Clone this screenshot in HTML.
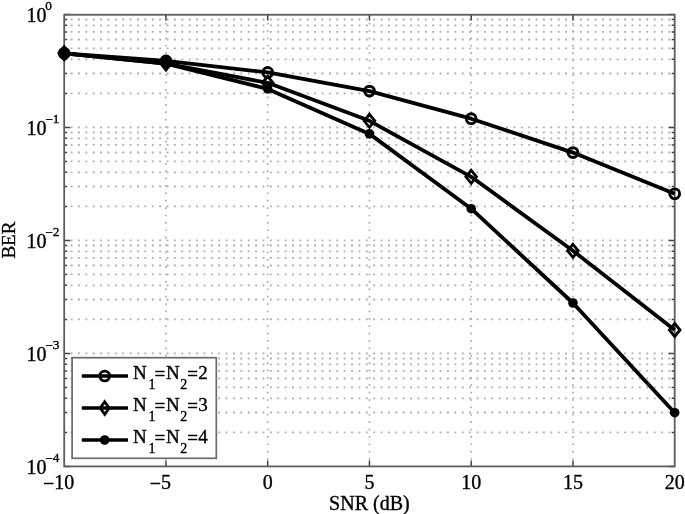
<!DOCTYPE html><html><head><meta charset="utf-8"><style>html,body{margin:0;padding:0;background:#fff;}svg{display:block;filter:blur(0.45px);}text{font-family:"Liberation Serif",serif;fill:#000;stroke:#000;stroke-width:0.35px;}</style></head><body>
<svg width="685" height="514" viewBox="0 0 685 514">
<rect width="685" height="514" fill="#fff"/>
<path d="M64.20 432.38H674.70M64.20 412.49H674.70M64.20 398.37H674.70M64.20 387.42H674.70M64.20 378.47H674.70M64.20 370.90H674.70M64.20 364.35H674.70M64.20 358.57H674.70M64.20 353.40H674.70M64.20 319.38H674.70M64.20 299.49H674.70M64.20 285.37H674.70M64.20 274.42H674.70M64.20 265.47H674.70M64.20 257.90H674.70M64.20 251.35H674.70M64.20 245.57H674.70M64.20 240.40H674.70M64.20 206.38H674.70M64.20 186.49H674.70M64.20 172.37H674.70M64.20 161.42H674.70M64.20 152.47H674.70M64.20 144.90H674.70M64.20 138.35H674.70M64.20 132.57H674.70M64.20 127.40H674.70M64.20 93.38H674.70M64.20 73.49H674.70M64.20 59.37H674.70M64.20 48.42H674.70M64.20 39.47H674.70M64.20 31.90H674.70M64.20 25.35H674.70M64.20 19.57H674.70" stroke="#aeaeae" stroke-width="1.9" stroke-dasharray="1.9 5.48" stroke-dashoffset="0.95" fill="none"/>
<path d="M165.95 466.40V14.40M267.70 466.40V14.40M369.45 466.40V14.40M471.20 466.40V14.40M572.95 466.40V14.40" stroke="#ababab" stroke-width="1.7" stroke-dasharray="1.7 5.68" stroke-dashoffset="0.85" fill="none"/>
<path d="M165.95 466.40v-6M165.95 14.40v6M267.70 466.40v-6M267.70 14.40v6M369.45 466.40v-6M369.45 14.40v6M471.20 466.40v-6M471.20 14.40v6M572.95 466.40v-6M572.95 14.40v6M64.20 466.40h6M674.70 466.40h-6M64.20 432.38h3M674.70 432.38h-3M64.20 412.49h3M674.70 412.49h-3M64.20 398.37h3M674.70 398.37h-3M64.20 387.42h3M674.70 387.42h-3M64.20 378.47h3M674.70 378.47h-3M64.20 370.90h3M674.70 370.90h-3M64.20 364.35h3M674.70 364.35h-3M64.20 358.57h3M674.70 358.57h-3M64.20 353.40h6M674.70 353.40h-6M64.20 319.38h3M674.70 319.38h-3M64.20 299.49h3M674.70 299.49h-3M64.20 285.37h3M674.70 285.37h-3M64.20 274.42h3M674.70 274.42h-3M64.20 265.47h3M674.70 265.47h-3M64.20 257.90h3M674.70 257.90h-3M64.20 251.35h3M674.70 251.35h-3M64.20 245.57h3M674.70 245.57h-3M64.20 240.40h6M674.70 240.40h-6M64.20 206.38h3M674.70 206.38h-3M64.20 186.49h3M674.70 186.49h-3M64.20 172.37h3M674.70 172.37h-3M64.20 161.42h3M674.70 161.42h-3M64.20 152.47h3M674.70 152.47h-3M64.20 144.90h3M674.70 144.90h-3M64.20 138.35h3M674.70 138.35h-3M64.20 132.57h3M674.70 132.57h-3M64.20 127.40h6M674.70 127.40h-6M64.20 93.38h3M674.70 93.38h-3M64.20 73.49h3M674.70 73.49h-3M64.20 59.37h3M674.70 59.37h-3M64.20 48.42h3M674.70 48.42h-3M64.20 39.47h3M674.70 39.47h-3M64.20 31.90h3M674.70 31.90h-3M64.20 25.35h3M674.70 25.35h-3M64.20 19.57h3M674.70 19.57h-3M64.20 14.40h6M674.70 14.40h-6" stroke="#444" stroke-width="1.5" fill="none"/>
<rect x="64.2" y="14.75" width="610.50" height="451.65" fill="none" stroke="#5c5c5c" stroke-width="1.8"/>
<polyline points="64.20,53.30 165.95,60.90 267.70,72.40 369.45,91.10 471.20,118.70 572.95,152.60 674.70,193.80" fill="none" stroke="#000" stroke-width="3.8" stroke-linejoin="round"/>
<polyline points="64.20,53.30 165.95,63.60 267.70,82.80 369.45,120.80 471.20,176.80 572.95,250.80 674.70,330.00" fill="none" stroke="#000" stroke-width="3.8" stroke-linejoin="round"/>
<polyline points="64.20,53.30 165.95,63.60 267.70,88.90 369.45,133.90 471.20,208.70 572.95,303.00 674.70,412.70" fill="none" stroke="#000" stroke-width="3.8" stroke-linejoin="round"/>
<circle cx="64.20" cy="53.30" r="4.9" fill="none" stroke="#000" stroke-width="2.9"/>
<circle cx="165.95" cy="60.90" r="4.9" fill="none" stroke="#000" stroke-width="2.9"/>
<circle cx="267.70" cy="72.40" r="4.9" fill="none" stroke="#000" stroke-width="2.9"/>
<circle cx="369.45" cy="91.10" r="4.9" fill="none" stroke="#000" stroke-width="2.9"/>
<circle cx="471.20" cy="118.70" r="4.9" fill="none" stroke="#000" stroke-width="2.9"/>
<circle cx="572.95" cy="152.60" r="4.9" fill="none" stroke="#000" stroke-width="2.9"/>
<circle cx="674.70" cy="193.80" r="4.9" fill="none" stroke="#000" stroke-width="2.9"/>
<path d="M64.20 46.80L69.50 53.30L64.20 59.80L58.90 53.30Z" fill="none" stroke="#000" stroke-width="2.8"/>
<path d="M165.95 57.10L171.25 63.60L165.95 70.10L160.65 63.60Z" fill="none" stroke="#000" stroke-width="2.8"/>
<path d="M267.70 76.30L273.00 82.80L267.70 89.30L262.40 82.80Z" fill="none" stroke="#000" stroke-width="2.8"/>
<path d="M369.45 114.30L374.75 120.80L369.45 127.30L364.15 120.80Z" fill="none" stroke="#000" stroke-width="2.8"/>
<path d="M471.20 170.30L476.50 176.80L471.20 183.30L465.90 176.80Z" fill="none" stroke="#000" stroke-width="2.8"/>
<path d="M572.95 244.30L578.25 250.80L572.95 257.30L567.65 250.80Z" fill="none" stroke="#000" stroke-width="2.8"/>
<path d="M674.70 323.50L680.00 330.00L674.70 336.50L669.40 330.00Z" fill="none" stroke="#000" stroke-width="2.8"/>
<circle cx="64.20" cy="53.30" r="4.8" fill="#000"/>
<circle cx="165.95" cy="63.60" r="4.8" fill="#000"/>
<circle cx="267.70" cy="88.90" r="4.8" fill="#000"/>
<circle cx="369.45" cy="133.90" r="4.8" fill="#000"/>
<circle cx="471.20" cy="208.70" r="4.8" fill="#000"/>
<circle cx="572.95" cy="303.00" r="4.8" fill="#000"/>
<circle cx="674.70" cy="412.70" r="4.8" fill="#000"/>
<rect x="72.1" y="357.7" width="144.20" height="100.60" fill="#fff" stroke="#6a6a6a" stroke-width="1.7"/>
<path d="M81.8 376.0H128" stroke="#000" stroke-width="3.3"/>
<circle cx="104.7" cy="376.0" r="4.9" fill="none" stroke="#000" stroke-width="2.9"/>
<text x="133.1" y="378.8" font-size="19">N</text>
<text x="148.6" y="388.7" font-size="14">1</text>
<text x="154.4" y="380.1" font-size="19">=</text>
<text x="166.1" y="378.8" font-size="19">N</text>
<text x="180.2" y="388.7" font-size="14">2</text>
<text x="187.2" y="380.1" font-size="19">=</text>
<text x="198.2" y="378.8" font-size="19">2</text>
<path d="M81.8 408.0H128" stroke="#000" stroke-width="3.3"/>
<path d="M104.7 401.70L109.20 408.0L104.7 414.30L100.20 408.0Z" fill="none" stroke="#000" stroke-width="2.8"/>
<text x="133.1" y="410.8" font-size="19">N</text>
<text x="148.6" y="420.7" font-size="14">1</text>
<text x="154.4" y="412.1" font-size="19">=</text>
<text x="166.1" y="410.8" font-size="19">N</text>
<text x="180.2" y="420.7" font-size="14">2</text>
<text x="187.2" y="412.1" font-size="19">=</text>
<text x="198.2" y="410.8" font-size="19">3</text>
<path d="M81.8 440.0H128" stroke="#000" stroke-width="3.3"/>
<circle cx="104.7" cy="440.0" r="4.8" fill="#000"/>
<text x="133.1" y="442.8" font-size="19">N</text>
<text x="148.6" y="452.7" font-size="14">1</text>
<text x="154.4" y="444.1" font-size="19">=</text>
<text x="166.1" y="442.8" font-size="19">N</text>
<text x="180.2" y="452.7" font-size="14">2</text>
<text x="187.2" y="444.1" font-size="19">=</text>
<text x="198.2" y="442.8" font-size="19">4</text>
<text x="26.4" y="21.7" font-size="20">10</text>
<text x="45.2" y="9.8" font-size="13.3">0</text>
<text x="26.4" y="134.7" font-size="20">10</text>
<text x="45.2" y="122.8" font-size="13.3"><tspan dy="1.4">−</tspan><tspan dy="-1.4">1</tspan></text>
<text x="26.4" y="247.7" font-size="20">10</text>
<text x="45.2" y="235.8" font-size="13.3"><tspan dy="1.4">−</tspan><tspan dy="-1.4">2</tspan></text>
<text x="26.4" y="360.7" font-size="20">10</text>
<text x="45.2" y="348.8" font-size="13.3"><tspan dy="1.4">−</tspan><tspan dy="-1.4">3</tspan></text>
<text x="26.4" y="473.7" font-size="20">10</text>
<text x="45.2" y="461.8" font-size="13.3"><tspan dy="1.4">−</tspan><tspan dy="-1.4">4</tspan></text>
<text x="74.20" y="488.8" font-size="20" text-anchor="end"><tspan dy="1.2">−</tspan><tspan dy="-1.2">10</tspan></text>
<text x="170.95" y="488.8" font-size="20" text-anchor="end"><tspan dy="1.2">−</tspan><tspan dy="-1.2">5</tspan></text>
<text x="272.70" y="488.8" font-size="20" text-anchor="end">0</text>
<text x="374.45" y="488.8" font-size="20" text-anchor="end">5</text>
<text x="481.20" y="488.8" font-size="20" text-anchor="end">10</text>
<text x="582.95" y="488.8" font-size="20" text-anchor="end">15</text>
<text x="684.70" y="488.8" font-size="20" text-anchor="end">20</text>
<text x="369.4" y="510.4" font-size="20" text-anchor="middle">SNR (dB)</text>
<text transform="translate(14.8 240.1) rotate(-90)" font-size="19" text-anchor="middle">BER</text>
</svg></body></html>
